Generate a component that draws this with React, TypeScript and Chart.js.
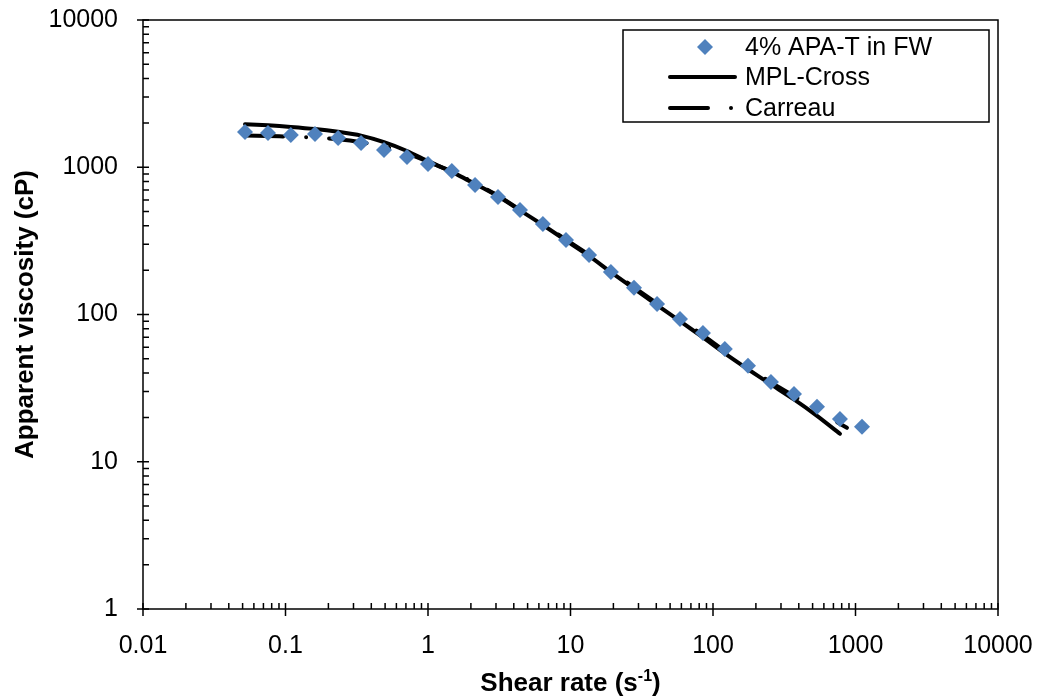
import React, { useEffect, useRef } from 'react';
import { Chart, registerables } from 'chart.js';

Chart.register(...registerables);

// ---- Data ----
const shearRate = [0.052, 0.0754, 0.109, 0.161, 0.234, 0.339, 0.491, 0.712, 1.0, 1.47, 2.14, 3.1, 4.42, 6.4, 9.3, 13.5, 19.2, 27.9, 40.5, 58.7, 85, 121, 176, 255, 370, 537, 778, 1111];
const viscosity = [1738, 1710, 1656, 1680, 1581, 1463, 1311, 1175, 1052, 944, 758, 629, 513, 412, 320, 254, 194, 152, 118, 93.3, 75, 58.3, 44.8, 34.8, 28.9, 23.6, 19.5, 17.3];

const mplCrossRate = [0.052, 0.0754, 0.109, 0.161, 0.234, 0.339, 0.491, 0.712, 1.0, 1.47, 2.14, 3.1, 4.42, 6.4, 9.3, 13.5, 19.2, 27.9, 40.5, 58.7, 85, 121, 176, 255, 370, 537, 778];
const mplCrossVisc = [1960, 1925, 1880, 1820, 1740, 1640, 1480, 1290, 1100, 930, 770, 635, 510, 405, 318, 250, 194, 150, 116, 90, 70, 54.5, 42.5, 33.5, 26.5, 20.5, 15.5];

const carreauRate = [0.052, 0.0754, 0.109, 0.161, 0.234, 0.339, 0.491, 0.712, 1.0, 1.47, 2.14, 3.1, 4.42, 6.4, 9.3, 13.5, 19.2, 27.9, 40.5, 58.7, 85, 121, 176, 255, 370, 537, 871];
const carreauVisc = [1640, 1630, 1615, 1590, 1550, 1480, 1380, 1250, 1090, 935, 780, 640, 515, 412, 322, 254, 197, 153, 119, 93, 72.5, 56.5, 44, 34.5, 28, 22.3, 17];

const seriesNames = ['4% APA-T in FW', 'MPL-Cross', 'Carreau'];

const xTickValues = [0.01, 0.1, 1, 10, 100, 1000, 10000];
const xTickLabels = ['0.01', '0.1', '1', '10', '100', '1000', '10000'];
const yTickValues = [1, 10, 100, 1000, 10000];
const yTickLabels = ['1', '10', '100', '1000', '10000'];

const xTitleMain = 'Shear rate (s';
const xTitleSup = '-1';
const xTitleEnd = ')';
const yTitle = 'Apparent viscosity (cP)';

const FONT = "'Liberation Sans', Arial, sans-serif";
const MARKER = '#4f81bd';
const CARREAU_DASH = [38, 23, 0.01, 23];

const decorPlugin = {
  id: 'decor',
  afterDraw(chart: any) {
    const { ctx, chartArea: a, scales } = chart;
    const xs = scales.x;
    const ys = scales.y;
    ctx.save();
    ctx.strokeStyle = '#000';
    ctx.lineWidth = 1.5;
    ctx.strokeRect(a.left, a.top, a.right - a.left, a.bottom - a.top);

    // ticks
    ctx.beginPath();
    xTickValues.forEach((v, i) => {
      const p = xs.getPixelForValue(v);
      ctx.moveTo(p, a.bottom - 6);
      ctx.lineTo(p, a.bottom + 7);
      if (i < xTickValues.length - 1) {
        for (let m = 2; m <= 9; m++) {
          const q = xs.getPixelForValue(v * m);
          ctx.moveTo(q, a.bottom - 6);
          ctx.lineTo(q, a.bottom);
        }
      }
    });
    yTickValues.forEach((v, i) => {
      const p = ys.getPixelForValue(v);
      ctx.moveTo(a.left - 6, p);
      ctx.lineTo(a.left + 6, p);
      if (i < yTickValues.length - 1) {
        for (let m = 2; m <= 9; m++) {
          const q = ys.getPixelForValue(v * m);
          ctx.moveTo(a.left, q);
          ctx.lineTo(a.left + 6, q);
        }
      }
    });
    ctx.stroke();

    // axis titles
    ctx.fillStyle = '#000';
    const bold = `bold 26px ${FONT}`;
    const supFont = `bold 16px ${FONT}`;
    ctx.font = bold;
    const w1 = ctx.measureText(xTitleMain).width;
    const w3 = ctx.measureText(xTitleEnd).width;
    ctx.font = supFont;
    const w2 = ctx.measureText(xTitleSup).width;
    const total = w1 + w2 + w3;
    const cx = (a.left + a.right) / 2;
    const baseY = 691;
    let x0 = cx - total / 2;
    ctx.textAlign = 'left';
    ctx.textBaseline = 'alphabetic';
    ctx.font = bold;
    ctx.fillText(xTitleMain, x0, baseY);
    ctx.font = supFont;
    ctx.fillText(xTitleSup, x0 + w1, baseY - 10);
    ctx.font = bold;
    ctx.fillText(xTitleEnd, x0 + w1 + w2, baseY);

    ctx.save();
    ctx.translate(33, (a.top + a.bottom) / 2);
    ctx.rotate(-Math.PI / 2);
    ctx.textAlign = 'center';
    ctx.fillText(yTitle, 0, 0);
    ctx.restore();

    // legend
    const bx = a.right - 375;
    const by = a.top + 10;
    const bw = 366;
    const bh = 92;
    ctx.fillStyle = '#fff';
    ctx.fillRect(bx, by, bw, bh);
    ctx.strokeStyle = '#000';
    ctx.lineWidth = 1.5;
    ctx.strokeRect(bx, by, bw, bh);
    const rows = [by + 17, by + 47, by + 78];
    const textX = bx + 122;
    ctx.font = `25px ${FONT}`;
    ctx.fillStyle = '#000';
    ctx.textAlign = 'left';
    ctx.textBaseline = 'middle';
    seriesNames.forEach((name, i) => ctx.fillText(name, textX, rows[i] + 1));

    // marker sample
    const mx = bx + 82;
    ctx.fillStyle = MARKER;
    ctx.beginPath();
    ctx.moveTo(mx, rows[0] - 8);
    ctx.lineTo(mx + 8, rows[0]);
    ctx.lineTo(mx, rows[0] + 8);
    ctx.lineTo(mx - 8, rows[0]);
    ctx.closePath();
    ctx.fill();

    // line samples
    ctx.strokeStyle = '#000';
    ctx.lineWidth = 4;
    ctx.lineCap = 'round';
    ctx.beginPath();
    ctx.moveTo(bx + 47, rows[1]);
    ctx.lineTo(bx + 112, rows[1]);
    ctx.stroke();
    ctx.setLineDash(CARREAU_DASH);
    ctx.beginPath();
    ctx.moveTo(bx + 47, rows[2]);
    ctx.lineTo(bx + 112, rows[2]);
    ctx.stroke();
    ctx.setLineDash([]);
    ctx.restore();
  },
};

function zeroPad(s: any) {
  s.paddingTop = 0;
  s.paddingBottom = 0;
  s.paddingLeft = 0;
  s.paddingRight = 0;
}

export default function App() {
  const ref = useRef<HTMLCanvasElement | null>(null);

  useEffect(() => {
    if (!ref.current) return;
    document.body.style.margin = '0';
    const chart = new Chart(ref.current, {
      type: 'scatter',
      data: {
        datasets: [
          {
            label: seriesNames[0],
            data: shearRate.map((x, i) => ({ x, y: viscosity[i] })),
            pointStyle: 'rectRot',
            pointRadius: 8,
            pointBackgroundColor: MARKER,
            pointBorderWidth: 0,
            showLine: false,
            order: 0,
          },
          {
            label: seriesNames[1],
            data: mplCrossRate.map((x, i) => ({ x, y: mplCrossVisc[i] })),
            showLine: true,
            pointRadius: 0,
            borderColor: '#000',
            borderWidth: 4,
            borderCapStyle: 'round',
            borderJoinStyle: 'round',
            tension: 0.2,
            order: 2,
          },
          {
            label: seriesNames[2],
            data: carreauRate.map((x, i) => ({ x, y: carreauVisc[i] })),
            showLine: true,
            pointRadius: 0,
            borderColor: '#000',
            borderWidth: 4,
            borderDash: CARREAU_DASH,
            borderCapStyle: 'round',
            borderJoinStyle: 'round',
            tension: 0.2,
            order: 1,
          },
        ],
      } as any,
      options: {
        animation: false,
        responsive: false,
        layout: { autoPadding: false, padding: { top: 20, right: 48, left: 0, bottom: 0 } },
        plugins: { legend: { display: false }, tooltip: { enabled: false } },
        scales: {
          x: {
            type: 'logarithmic',
            position: 'bottom',
            min: 0.01,
            max: 10000,
            grid: { display: false, drawTicks: false },
            border: { display: false },
            afterBuildTicks: (s: any) => {
              s.ticks = xTickValues.map((v) => ({ value: v }));
            },
            afterFit: (s: any) => {
              s.height = 91;
              zeroPad(s);
            },
            ticks: {
              autoSkip: false,
              maxRotation: 0,
              color: '#000',
              padding: 22,
              font: { family: FONT, size: 25 },
              callback: (v: any) => {
                const i = xTickValues.indexOf(Number(v));
                return i >= 0 ? xTickLabels[i] : '';
              },
            },
          },
          y: {
            type: 'logarithmic',
            min: 1,
            max: 10000,
            grid: { display: false, drawTicks: false },
            border: { display: false },
            afterBuildTicks: (s: any) => {
              s.ticks = yTickValues.map((v) => ({ value: v }));
            },
            afterFit: (s: any) => {
              s.width = 143;
              zeroPad(s);
            },
            ticks: {
              autoSkip: false,
              color: '#000',
              padding: 25,
              font: { family: FONT, size: 25 },
              callback: (v: any) => {
                const i = yTickValues.indexOf(Number(v));
                return i >= 0 ? yTickLabels[i] : '';
              },
            },
          },
        },
      } as any,
      plugins: [decorPlugin],
    });
    return () => chart.destroy();
  }, []);

  return (
    <div style={{ position: 'absolute', left: 0, top: 0, width: 1046, height: 700, background: '#fff' }}>
      <canvas ref={ref} width={1046} height={700} style={{ display: 'block' }} />
    </div>
  );
}
